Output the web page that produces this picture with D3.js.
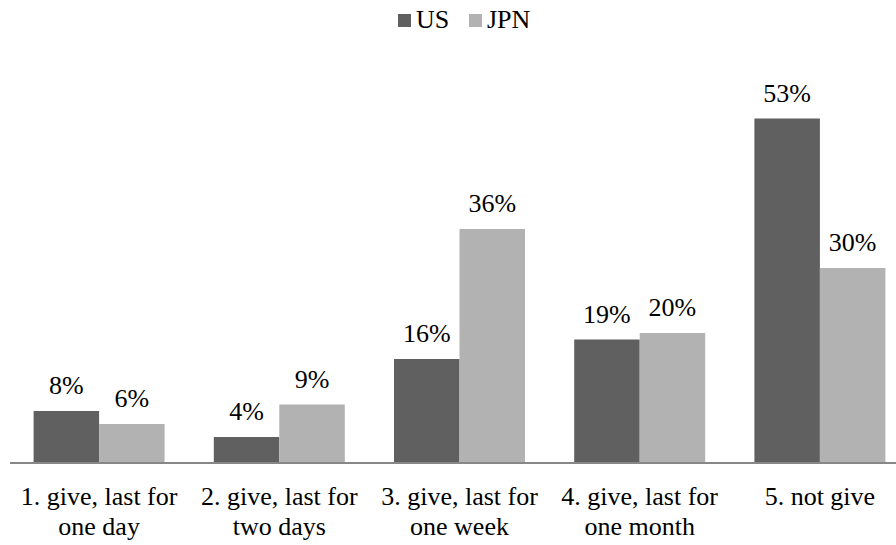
<!DOCTYPE html>
<html>
<head>
<meta charset="utf-8">
<script src="https://cdn.jsdelivr.net/npm/d3@7"></script>
<style>
  html, body { margin: 0; padding: 0; background: #fff; }
  svg { display: block; }
</style>
</head>
<body>
<svg id="chart" width="896" height="545"></svg>
<script>
const categories = [
  ["1. give, last for", "one day"],
  ["2. give, last for", "two days"],
  ["3. give, last for", "one week"],
  ["4. give, last for", "one month"],
  ["5. not give"]
];
const seriesNames = ["US", "JPN"];
const usValues = [8, 4, 16, 19, 53];
const jpnValues = [6, 9, 36, 20, 30];
const seriesColors = ["#606060", "#b2b2b2"];

const FONT = "Liberation Serif";
const svg = d3.select("#chart");
const baseY = 463, topY = 73;
const x0 = d3.scaleBand().domain(d3.range(categories.length)).range([9, 910]).paddingInner(0.273).paddingOuter(0.1365);
const x1 = d3.scaleBand().domain(seriesNames).range([0, x0.bandwidth()]);
const y = d3.scaleLinear().domain([0, 60]).range([baseY, topY]);

const data = categories.map((c, i) => ({ i, vals: [usValues[i], jpnValues[i]] }));

const g = svg.append("g");
const groups = g.selectAll("g.cat").data(data).join("g")
  .attr("transform", d => `translate(${x0(d.i)},0)`);

groups.selectAll("rect").data(d => d.vals.map((v, k) => ({ v, k })))
  .join("rect")
  .attr("x", d => x1(seriesNames[d.k]))
  .attr("width", x1.bandwidth())
  .attr("y", d => y(d.v))
  .attr("height", d => baseY - y(d.v))
  .attr("fill", d => seriesColors[d.k]);

groups.selectAll("text.val").data(d => d.vals.map((v, k) => ({ v, k })))
  .join("text")
  .attr("class", "val")
  .attr("x", d => x1(seriesNames[d.k]) + x1.bandwidth() / 2)
  .attr("y", d => y(d.v) - 17)
  .attr("text-anchor", "middle")
  .attr("font-family", FONT)
  .attr("font-size", 26)
  .attr("fill", "#000")
  .text(d => d.v + "%");

// axis baseline
const xAxis = d3.axisBottom(x0).tickSize(0).tickFormat("");
const ax = svg.append("g").attr("transform", `translate(0,${baseY})`).call(xAxis);
ax.select(".domain").attr("stroke", "#878787").attr("stroke-width", 2).attr("d", `M10,0H910`);

// category labels
categories.forEach((lines, i) => {
  const cx = x0(i) + x0.bandwidth() / 2;
  const t = svg.append("text")
    .attr("x", cx)
    .attr("y", 505)
    .attr("text-anchor", "middle")
    .attr("font-family", FONT)
    .attr("font-size", 26)
    .attr("fill", "#000");
  lines.forEach((ln, j) => {
    t.append("tspan").attr("x", cx).attr("dy", j === 0 ? 0 : 30).text(ln);
  });
});

// legend
const legend = svg.append("g");
const legendX = [398, 469];
seriesNames.forEach((name, k) => {
  legend.append("rect").attr("x", legendX[k]).attr("y", 14).attr("width", 13).attr("height", 13).attr("fill", seriesColors[k]);
  legend.append("text").attr("x", legendX[k] + 18).attr("y", 28)
    .attr("font-family", FONT).attr("font-size", 26).attr("fill", "#000").text(name);
});
</script>
</body>
</html>
